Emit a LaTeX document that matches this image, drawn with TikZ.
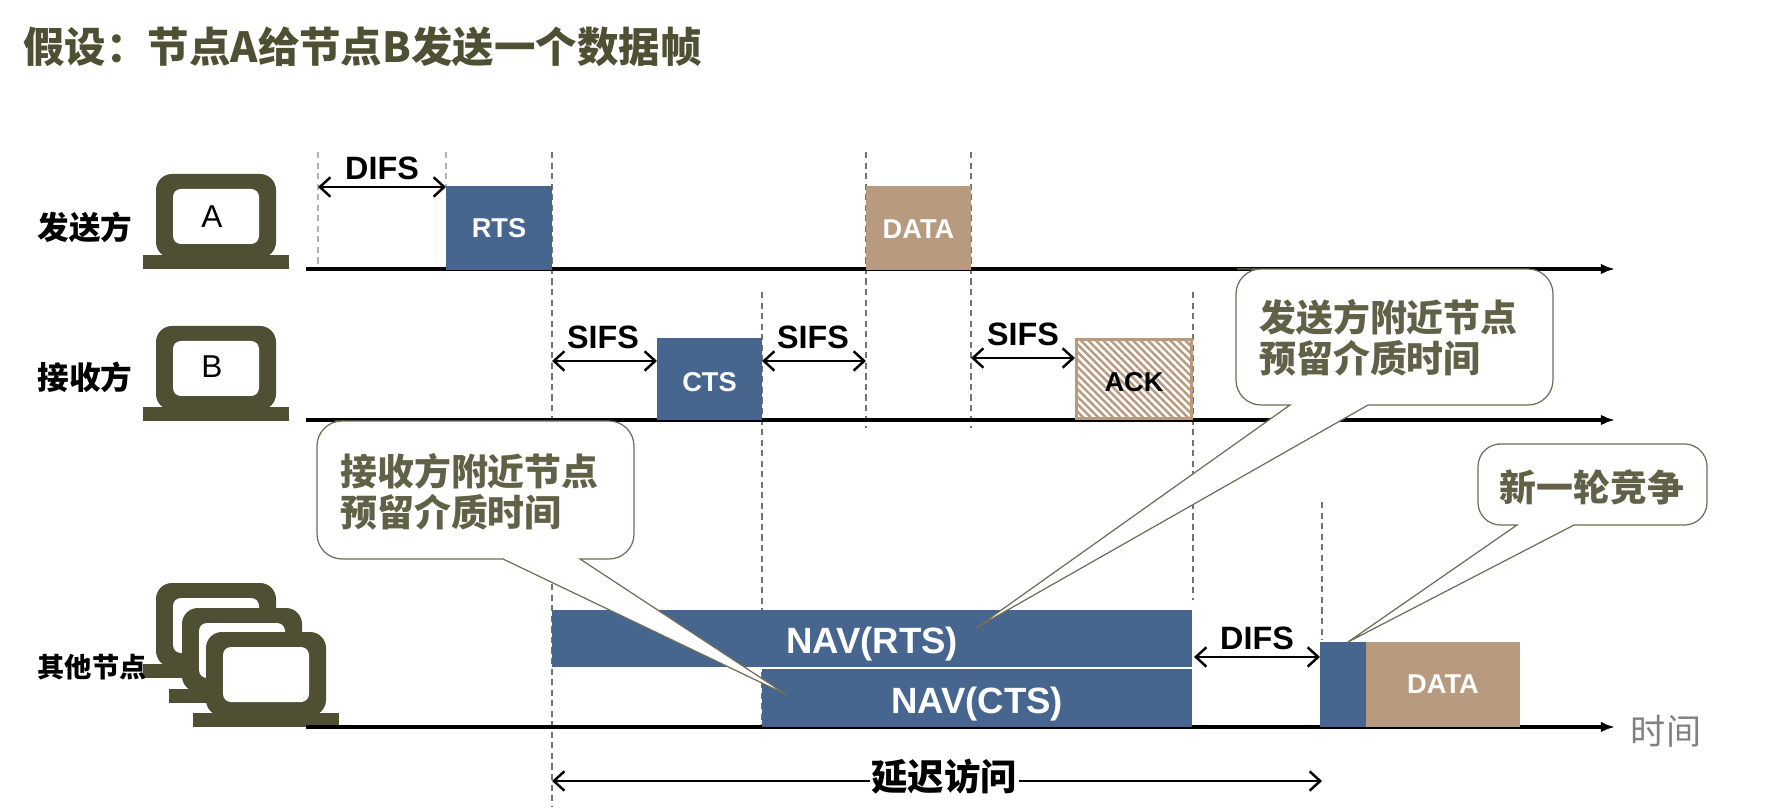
\documentclass[tikz,border=0pt]{standalone}
\usepackage{fontspec}
\usepackage{tikz}
\usepackage{xcolor}
\usetikzlibrary{arrows.meta,patterns.meta}
\setmainfont{Liberation Sans}
\newfontfamily\cjk{Noto Sans CJK SC}
\definecolor{navblue}{HTML}{466690}
\definecolor{datatan}{HTML}{B89A7E}
\definecolor{olive}{HTML}{4F4F33}
\definecolor{calloutline}{HTML}{6E6E58}
\newcommand{\fsize}[1]{\fontsize{#1}{1.1\dimexpr #1pt\relax}\selectfont}
\tikzset{
	laptop/.pic={
		\fill[olive, rounded corners=0.32cm] (0,0) rectangle (120,84);
		\fill[white, rounded corners=0.16cm] (17,15) rectangle (103,70);
		\fill[olive] (-13,81) rectangle (133,95);
	}
}

\begin{document}
\begin{tikzpicture}[x=0.02cm,y=-0.02cm]
	\useasboundingbox (0,0) rectangle (1774,810);
	\tikzstyle{blockbox}=[anchor=north west,inner sep=0,outer sep=0,text=white,font=\fsize{15.5}\bfseries]
	\tikzstyle{navbox}=[blockbox,fill=navblue,text height=17.2pt,text depth=0pt,font=\fsize{20.8}\bfseries]
	\tikzstyle{timedash}=[gray!90!black,line width=0.7pt,dash pattern=on 3.5pt off 2.5pt]
	\tikzstyle{paledash}=[gray!60,line width=1.2pt,dash pattern=on 3.5pt off 2.5pt]
	\tikzstyle{axisline}=[line width=1.9pt,-{Latex[length=8pt,width=6pt]}]
	\tikzstyle{sizearrow}=[line width=1.4pt,{Straight Barb[length=6pt,width=11pt]}-{Straight Barb[length=6pt,width=11pt]}]
	\tikzstyle{sizelabel}=[inner sep=0,font=\fsize{18.4}\bfseries]
	\tikzstyle{sidelabel}=[inner sep=0,font=\cjk\fsize{18}\bfseries]
	\tikzstyle{callout}=[draw=calloutline,fill=white,line width=0.7pt]
	\tikzstyle{callouttext}=[inner sep=0,anchor=west,align=left,text=olive!90,font=\cjk\fsize{21}\bfseries]

	% title
	\node[anchor=west,inner sep=0,text=olive,font=\cjk\fsize{23.6}\bfseries] (title) at (23,47) {假设：节点A给节点B发送一个数据帧};

	% time guides
	\foreach \name/\x/\ya/\yb in {dc/552/152/807,dd/866/152/428,de/971/152/428,df/762/292/727,dg/1193/292/600,dh/1322/502/640}{
		\coordinate (\name top) at (\x,\ya);
		\coordinate (\name end) at (\x,\yb);
		\draw[timedash] (\name top) -- (\name end);
	}
	\foreach \name/\x/\ya/\yb in {da/318/152/268,db/446/152/186}{
		\coordinate (\name top) at (\x,\ya);
		\coordinate (\name end) at (\x,\yb);
		\draw[paledash] (\name top) -- (\name end);
	}

	% stations
	\pic at (156,174) {laptop};
	\pic at (156,326) {laptop};
	\pic at (156,583) {laptop};
	\pic at (182,608) {laptop};
	\pic at (206,632) {laptop};
	\node[inner sep=0,font=\fsize{18}] (labelA) at (212,217) {A};
	\node[inner sep=0,font=\fsize{18}] (labelB) at (212,367) {B};
	\node[sidelabel] (sender) at (85,227) {发送方};
	\node[sidelabel] (receiver) at (85,377) {接收方};
	\node[sidelabel,font=\cjk\fsize{15.5}\bfseries] (others) at (92,667) {其他节点};

	% axes
	\coordinate (axisAa) at (306,269);
	\coordinate (axisAb) at (1615,269);
	\coordinate (axisBa) at (306,420);
	\coordinate (axisBb) at (1615,420);
	\coordinate (axisCa) at (306,727);
	\coordinate (axisCb) at (1615,727);
	\draw[axisline] (axisAa) -- (axisAb);
	\draw[axisline] (axisBa) -- (axisBb);
	\draw[axisline] (axisCa) -- (axisCb);
	\node[inner sep=0,text=gray,font=\cjk\fsize{20}] (timelabel) at (1666,731) {时间};

	% frames
	\node[blockbox,fill=navblue,minimum width=2.12cm,minimum height=1.68cm] (rts) at (446,186) {RTS};
	\node[blockbox,fill=datatan,minimum width=2.1cm,minimum height=1.68cm,text height=12.4pt,text depth=0pt] (data) at (866,186) {DATA};
	\node[blockbox,fill=navblue,minimum width=2.1cm,minimum height=1.64cm,text height=14.7pt,text depth=0pt] (cts) at (657,338) {CTS};
	\node[blockbox,draw=datatan,line width=1.9pt,pattern={Lines[angle=-45,distance=3pt,line width=1.4pt]},pattern color=datatan,minimum width=2.3cm,minimum height=1.58cm] (ack) at (1076.5,339.5) {};
	\node[inner sep=0,font=\fsize{15.5}\bfseries] (acktext) at (1134,382) {ACK};
	\node[navbox,minimum width=12.8cm,minimum height=1.14cm] (navrts) at (552,610) {NAV(RTS)};
	\node[navbox,minimum width=8.6cm,minimum height=1.16cm] (navcts) at (762,669) {NAV(CTS)};
	\node[blockbox,fill=navblue,minimum width=0.92cm,minimum height=1.7cm] (backoff) at (1320,642) {};
	\node[blockbox,fill=datatan,minimum width=3.08cm,minimum height=1.7cm] (newdata) at (1366,642) {DATA};

	% intervals
	\coordinate (difsAa) at (318,187);
	\coordinate (difsAb) at (446,187);
	\coordinate (sifsAa) at (552,361);
	\coordinate (sifsAb) at (657,361);
	\coordinate (sifsBa) at (762,361);
	\coordinate (sifsBb) at (866,361);
	\coordinate (sifsCa) at (971,358);
	\coordinate (sifsCb) at (1075,358);
	\coordinate (difsBa) at (1194,657);
	\coordinate (difsBb) at (1320,657);
	\coordinate (defera) at (552,781);
	\coordinate (deferb) at (1322,781);
	\draw[sizearrow] (difsAa) -- (difsAb);
	\draw[sizearrow] (sifsAa) -- (sifsAb);
	\draw[sizearrow] (sifsBa) -- (sifsBb);
	\draw[sizearrow] (sifsCa) -- (sifsCb);
	\draw[sizearrow] (difsBa) -- (difsBb);
	\draw[sizearrow] (defera) -- (deferb);
	\node[sizelabel] (difsA) at (382,168) {DIFS};
	\node[sizelabel] (sifsA) at (603,337) {SIFS};
	\node[sizelabel] (sifsB) at (813,337) {SIFS};
	\node[sizelabel] (sifsC) at (1023,334) {SIFS};
	\node[sizelabel] (difsB) at (1257,638) {DIFS};
	\node[fill=white,inner xsep=1pt,inner ysep=0,font=\cjk\fsize{20.7}\bfseries] (defer) at (944,777) {延迟访问};

	% callouts
	\draw[callout] (1262,269) [rounded corners=0.5cm] -- (1236,269) -- (1236,405) [sharp corners] -- (1290,405) -- (976,628) -- (1368,405) [rounded corners=0.5cm] -- (1553,405) -- (1553,269) -- cycle;
	\node[callouttext] (sendnote) at (1259,338) {发送方附近节点\\预留介质时间};
	\draw[callout] (360,421) [rounded corners=0.5cm] -- (317,421) -- (317,559) [sharp corners] -- (503,559) -- (787,695) -- (580,559) [rounded corners=0.5cm] -- (634,559) -- (634,421) -- cycle;
	\node[callouttext] (recvnote) at (340,492) {接收方附近节点\\预留介质时间};
	\draw[callout] (1520,444) [rounded corners=0.45cm] -- (1478,444) -- (1478,525) [sharp corners] -- (1517,525) -- (1348,642) -- (1574,525) [rounded corners=0.45cm] -- (1707,525) -- (1707,444) -- cycle;
	\node[callouttext,anchor=center] (newnote) at (1592,487) {新一轮竞争};
\end{tikzpicture}
\end{document}
